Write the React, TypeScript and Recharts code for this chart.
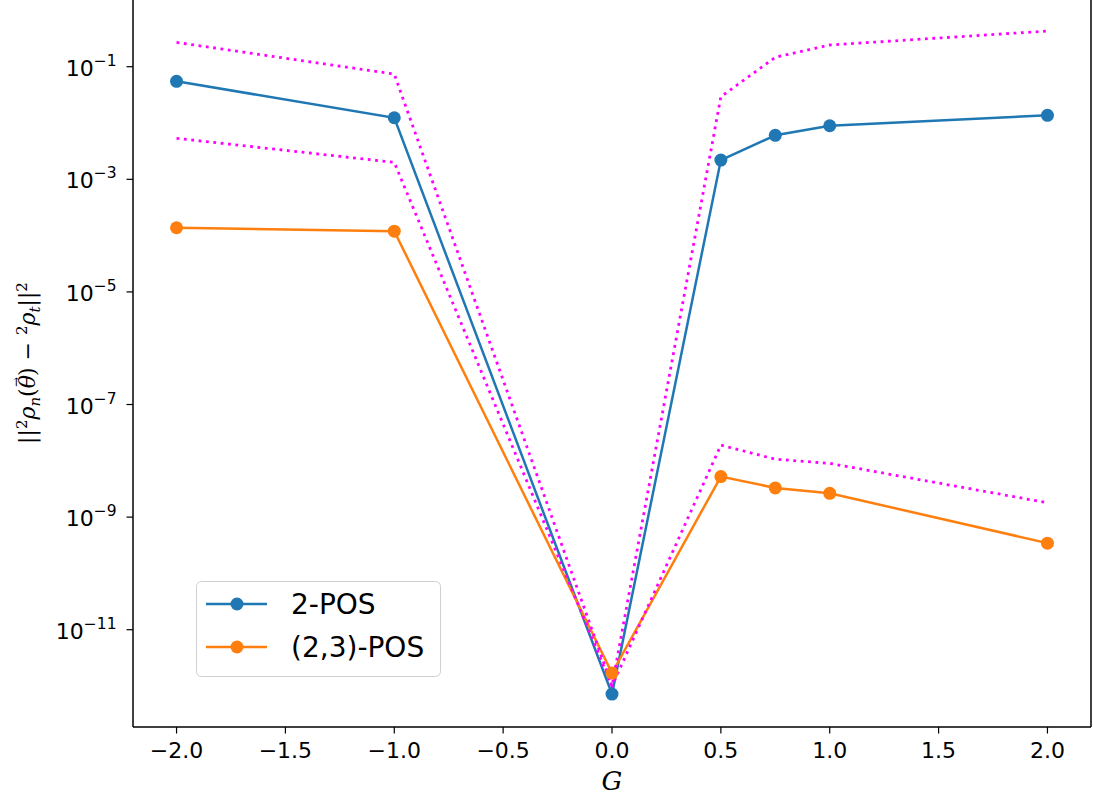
import React from 'react';
import { LineChart, Line, XAxis, YAxis, Legend, ReferenceLine } from 'recharts';

const gValues = [-2, -1, 0, 0.5, 0.75, 1, 2];
const pos2 = [0.055, 0.0124, 7.2e-13, 2.2e-3, 6.05e-3, 8.95e-3, 0.0137];
const pos23 = [1.38e-4, 1.2e-4, 1.7e-12, 5.25e-9, 3.3e-9, 2.65e-9, 3.45e-10];
const boundUpper = [0.27, 0.074, 1.0e-12, 0.0293, 0.147, 0.243, 0.43];
const boundLower = [5.35e-3, 2.0e-3, 1.0e-12, 1.9e-8, 1.07e-8, 9.0e-9, 1.8e-9];

const xTicks = [-2, -1.5, -1, -0.5, 0, 0.5, 1, 1.5, 2];
const yTicks = [1e-11, 1e-9, 1e-7, 1e-5, 1e-3, 1e-1];
const seriesNames = ['2-POS', '(2,3)-POS'];

const data = gValues.map((g, i) => ({
  g,
  pos2: pos2[i],
  pos23: pos23[i],
  upper: boundUpper[i],
  lower: boundLower[i],
}));

const BLUE = '#1f77b4';
const ORANGE = '#ff7f0e';
const MAGENTA = '#ff00ff';
const FONT = 'DejaVu Sans';

const YTick = (props: any) => {
  const { x, y, payload } = props;
  const exp = Math.round(Math.log10(payload.value));
  return (
    <text x={x} y={y + 9} textAnchor="end" fontSize={22} fontFamily={FONT} fill="#000">
      <tspan>10</tspan>
      <tspan dy={-10} fontSize={15.5}>{(exp < 0 ? '\u2212' : '') + Math.abs(exp)}</tspan>
    </text>
  );
};

const XTick = (props: any) => {
  const { x, y, payload } = props;
  const v = payload.value as number;
  const s = (v < 0 ? '\u2212' : '') + Math.abs(v).toFixed(1);
  return (
    <text x={x} y={y + 22} textAnchor="middle" fontSize={22} fontFamily={FONT} fill="#000">
      {s}
    </text>
  );
};

const YLabel = () => (
  <text
    transform="translate(35,363) rotate(-90)"
    textAnchor="middle"
    fontSize={22}
    fontFamily="DejaVu Serif"
    fill="#000"
  >
    <tspan>||</tspan>
    <tspan dy={-8} fontSize={15}>2</tspan>
    <tspan dy={8} fontStyle="italic">ρ</tspan>
    <tspan dy={5} fontSize={15} fontStyle="italic">n</tspan>
    <tspan dy={-5}>(</tspan>
    <tspan fontStyle="italic">θ</tspan>
    <tspan dx={-12} dy={-15} fontSize={12}>→</tspan>
    <tspan dx={1} dy={15}>) − </tspan>
    <tspan dy={-8} fontSize={15}>2</tspan>
    <tspan dy={8} fontStyle="italic">ρ</tspan>
    <tspan dy={5} fontSize={15} fontStyle="italic">t</tspan>
    <tspan dy={-5}>||</tspan>
    <tspan dy={-8} fontSize={15}>2</tspan>
  </text>
);

const XLabel = () => (
  <text x={612} y={790} textAnchor="middle" fontSize={26} fontStyle="italic" fontFamily="DejaVu Serif" fill="#000">
    G
  </text>
);

const LegendBox = () => {
  const colors = [BLUE, ORANGE];
  return (
    <svg width={246} height={97} style={{ display: 'block' }}>
      <rect x={0.5} y={0.5} width={244} height={95} rx={5} ry={5} fill="rgba(255,255,255,0.8)" stroke="#d0d0d0" strokeWidth={1} />
      {seriesNames.map((name, i) => {
        const cy = 23 + i * 43;
        return (
          <g key={name}>
            <line x1={10} x2={71} y1={cy} y2={cy} stroke={colors[i]} strokeWidth={2.5} />
            <circle cx={41} cy={cy} r={6.5} fill={colors[i]} />
            <text x={95} y={cy + 10} fontSize={28} fontFamily={FONT} fill="#000">
              {name}
            </text>
          </g>
        );
      })}
    </svg>
  );
};

export default function App() {
  return (
    <div style={{ position: 'absolute', left: 0, top: 0, width: 1093, height: 799, background: '#fff' }}>
      <LineChart
        width={1093}
        height={799}
        data={data}
        margin={{ top: 0, right: 2, bottom: 0, left: 0 }}
      >
        <XAxis
          dataKey="g"
          type="number"
          domain={[-2.2, 2.2]}
          ticks={xTicks}
          allowDataOverflow
          height={72}
          tickSize={6.5}
          tickMargin={2}
          tick={<XTick />}
          axisLine={{ stroke: '#000', strokeWidth: 1.5 }}
          tickLine={{ stroke: '#000', strokeWidth: 1.2 }}
          label={<XLabel />}
        />
        <YAxis
          scale="log"
          type="number"
          domain={[Math.pow(10, -12.728), Math.pow(10, 0.185)]}
          allowDataOverflow
          ticks={yTicks}
          width={133}
          tickSize={6.5}
          tickMargin={10}
          tick={<YTick />}
          axisLine={{ stroke: '#000', strokeWidth: 1.5 }}
          tickLine={{ stroke: '#000', strokeWidth: 1.2 }}
          label={<YLabel />}
        />
        <ReferenceLine x={2.2} stroke="#000" strokeWidth={1.5} ifOverflow="visible" />
        <Line
          dataKey="pos2"
          name={seriesNames[0]}
          stroke={BLUE}
          strokeWidth={2.5}
          dot={{ r: 6.5, fill: BLUE, stroke: 'none' }}
          activeDot={false}
          isAnimationActive={false}
        />
        <Line
          dataKey="pos23"
          name={seriesNames[1]}
          stroke={ORANGE}
          strokeWidth={2.5}
          dot={{ r: 6.5, fill: ORANGE, stroke: 'none' }}
          activeDot={false}
          isAnimationActive={false}
        />
        <Line
          dataKey="upper"
          stroke={MAGENTA}
          strokeWidth={2.8}
          strokeDasharray="2.8 4.6"
          dot={false}
          activeDot={false}
          legendType="none"
          isAnimationActive={false}
        />
        <Line
          dataKey="lower"
          stroke={MAGENTA}
          strokeWidth={2.8}
          strokeDasharray="2.8 4.6"
          dot={false}
          activeDot={false}
          legendType="none"
          isAnimationActive={false}
        />
        <Legend
          layout="horizontal"
          verticalAlign="middle"
          align="center"
          content={<LegendBox />}
          wrapperStyle={{ position: 'absolute', left: 196, top: 581, width: 246, height: 97 }}
        />
      </LineChart>
    </div>
  );
}
